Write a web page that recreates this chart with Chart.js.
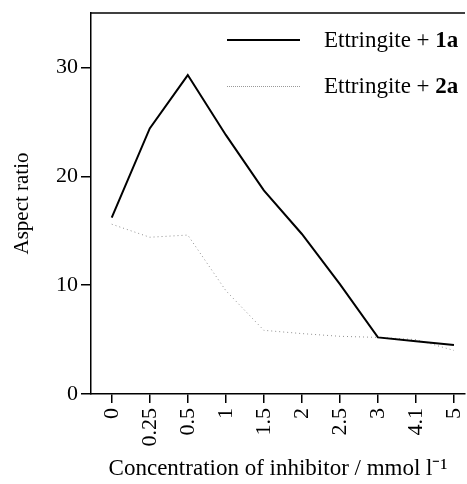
<!DOCTYPE html>
<html>
<head>
<meta charset="utf-8">
<script src="https://cdn.jsdelivr.net/npm/chart.js@4.4.1/dist/chart.umd.min.js"></script>
<style>
  html, body { margin: 0; padding: 0; background: #fff; }
  #wrap { position: relative; width: 467px; height: 484px; }
  #leyenda { position: absolute; left: 227px; top: 17px; font-family: "Liberation Serif", serif; font-size: 23px; color: #000; }
  .fila { display: flex; align-items: center; height: 46px; }
  .muestra { width: 73px; margin-right: 24px; }
  .solida { border-top: 2px solid #000; }
  .punteada { border-top: 1px dotted #999; }
</style>
</head>
<body>
<div id="wrap">
  <canvas id="myChart" width="467" height="484"></canvas>
  <div id="leyenda">
    <div class="fila"><div class="muestra solida"></div><span>Ettringite + <b>1a</b></span></div>
    <div class="fila"><div class="muestra punteada"></div><span>Ettringite + <b>2a</b></span></div>
  </div>
</div>
<script>
// concentraciones de inhibidor (mmol l-1)
const concentraciones = ["0", "0.25", "0.5", "1", "1.5", "2", "2.5", "3", "4.1", "5"];
const ettringita1a = [16.2, 24.4, 29.3, 23.8, 18.7, 14.7, 10.1, 5.2, 4.85, 4.5];
const ettringita2a = [15.6, 14.4, 14.6, 9.5, 5.85, 5.55, 5.3, 5.2, 5.0, 4.0];
const ticksY = [0, 10, 20, 30];

const fuente = "'Liberation Serif', 'Times New Roman', serif";

function aPuntos(valores) {
  return valores.map((v, i) => ({ x: i, y: v }));
}

// linea superior del marco
const bordeSuperior = {
  id: "bordeSuperior",
  afterDraw(chart) {
    const { ctx, chartArea } = chart;
    ctx.save();
    ctx.strokeStyle = "#000";
    ctx.lineWidth = 1.5;
    ctx.beginPath();
    ctx.moveTo(chartArea.left, chartArea.top);
    ctx.lineTo(chartArea.right, chartArea.top);
    ctx.stroke();
    ctx.restore();
  },
};

const config = {
  type: "line",
  data: {
    datasets: [
      {
        label: "Ettringite + 1a",
        data: aPuntos(ettringita1a),
        borderColor: "#000",
        borderWidth: 2,
        pointRadius: 0,
        tension: 0,
      },
      {
        label: "Ettringite + 2a",
        data: aPuntos(ettringita2a),
        borderColor: "#8f8f8f",
        borderWidth: 1,
        borderDash: [1, 3],
        pointRadius: 0,
        tension: 0,
      },
    ],
  },
  options: {
    responsive: false,
    animation: false,
    layout: { padding: { top: 13, right: 2, bottom: 0, left: 0 } },
    plugins: { legend: { display: false }, tooltip: { enabled: false } },
    scales: {
      x: {
        type: "linear",
        min: -0.545,
        max: 9.29,
        afterBuildTicks: (scale) => {
          scale.ticks = concentraciones.map((c, i) => ({ value: i }));
        },
        afterFit: (scale) => {
          scale.height = 90;
          scale.paddingLeft = 0;
          scale.paddingRight = 0;
        },
        ticks: {
          minRotation: 90,
          maxRotation: 90,
          padding: 5,
          color: "#000",
          font: { family: fuente, size: 22 },
          callback: (valor) => concentraciones[valor],
        },
        grid: { drawOnChartArea: false, tickLength: 9, color: "#000", lineWidth: 1.5 },
        border: { color: "#000", width: 1.5 },
        title: {
          display: true,
          text: "Concentration of inhibitor / mmol l\u207B\u00B9",
          color: "#000",
          font: { family: fuente, size: 23 },
          padding: { top: 0, bottom: 1 },
        },
      },
      y: {
        min: 0,
        max: 35,
        afterBuildTicks: (scale) => {
          scale.ticks = ticksY.map((v) => ({ value: v }));
        },
        afterFit: (scale) => {
          scale.width = 91;
          scale.paddingTop = 0;
          scale.paddingBottom = 0;
        },
        ticks: {
          padding: 3,
          color: "#000",
          font: { family: fuente, size: 22 },
        },
        grid: { drawOnChartArea: false, tickLength: 10, color: "#000", lineWidth: 1.5 },
        border: { color: "#000", width: 1.5 },
        title: {
          display: true,
          text: "Aspect ratio",
          color: "#000",
          font: { family: fuente, size: 21 },
          padding: { top: 10, bottom: 0 },
        },
      },
    },
  },
  plugins: [bordeSuperior],
};

const chartDOM = document.getElementById("myChart");
const myChart = new Chart(chartDOM, config);
</script>
</body>
</html>
